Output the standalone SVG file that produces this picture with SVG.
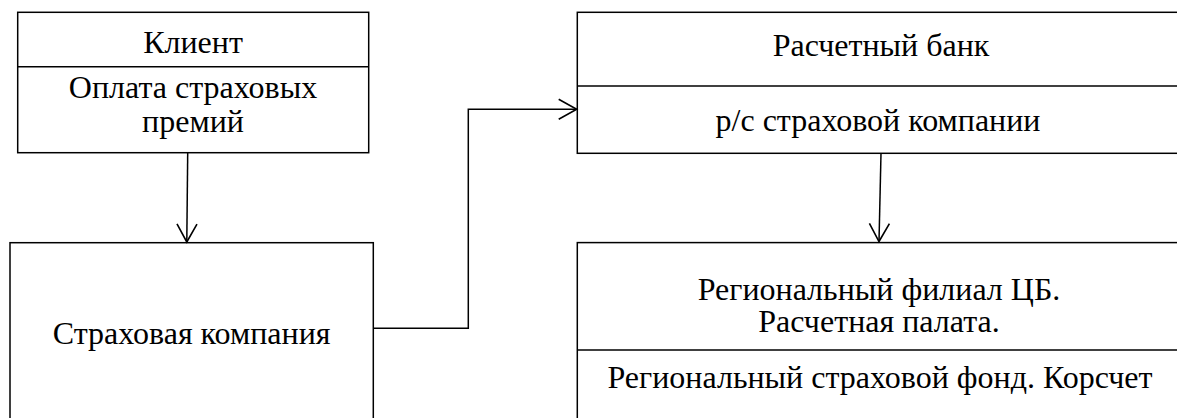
<svg xmlns="http://www.w3.org/2000/svg" width="1177" height="418" viewBox="0 0 1177 418">
<style>
.box{fill:#fff;stroke:#000;stroke-width:1.5}
.ln{fill:none;stroke:#000;stroke-width:1.5}
text{font-family:'Liberation Serif','Times New Roman',serif;font-size:32px;fill:#000;text-anchor:middle}
</style>
<defs>
<marker id="arr" markerUnits="userSpaceOnUse" markerWidth="22" markerHeight="24" refX="19" refY="11" orient="auto">
<path d="M1,1 L19,11 L1,21" fill="none" stroke="#000" stroke-width="1.6"/>
</marker>
</defs>
<rect width="1177" height="418" fill="#fff"/>
<g id="client">
<rect class="box" x="17.7" y="12.3" width="351" height="140.4"/>
<line class="ln" x1="17.7" y1="66.7" x2="368.7" y2="66.7"/>
<text x="193" y="53">Клиент</text>
<text x="193" y="98">Оплата страховых</text>
<text x="193" y="132">премий</text>
</g>
<g id="insurer">
<rect class="box" x="10" y="242.7" width="363.3" height="190"/>
<text x="191.6" y="344">Страховая компания</text>
</g>
<g id="bank">
<rect class="box" x="577.3" y="12.3" width="620" height="141"/>
<line class="ln" x1="577.3" y1="86" x2="1177" y2="86"/>
<text x="881" y="56">Расчетный банк</text>
<text x="878" y="131">р/с страховой компании</text>
</g>
<g id="cb">
<rect class="box" x="577.3" y="242.6" width="620" height="200"/>
<line class="ln" x1="577.3" y1="350" x2="1177" y2="350"/>
<text x="879" y="300">Региональный филиал ЦБ.</text>
<text x="879" y="332">Расчетная палата.</text>
<text x="880" y="388">Региональный страховой фонд. Корсчет</text>
</g>
<g id="connectors">
<line class="ln" x1="187.7" y1="152.7" x2="186.8" y2="242" marker-end="url(#arr)"/>
<polyline class="ln" points="373.3,328.3 468.3,328.3 468.3,109.3 576.7,109.3" marker-end="url(#arr)"/>
<line class="ln" x1="881" y1="153.3" x2="879" y2="241.5" marker-end="url(#arr)"/>
</g>
</svg>
